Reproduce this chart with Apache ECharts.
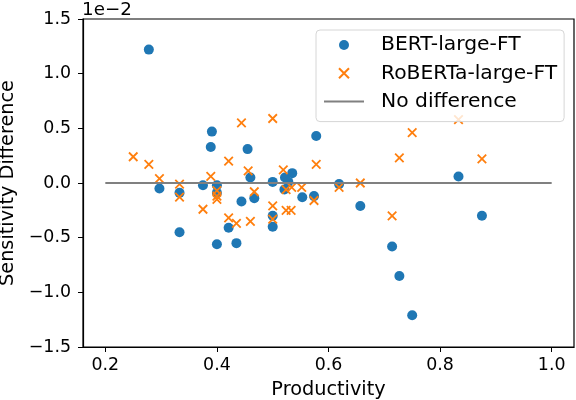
<!DOCTYPE html>
<html>
<head>
<meta charset="utf-8">
<script src="https://cdn.jsdelivr.net/npm/echarts@6/dist/echarts.min.js"></script>
<style>
  html, body { margin: 0; padding: 0; background: #fff; }
  #chart { width: 576px; height: 400px; }
</style>
</head>
<body>
<div id="chart"></div>
<script>
// sensitivity difference values are in units of 1e-2
var bertProductivity = [0.278, 0.297, 0.333, 0.333, 0.375, 0.389, 0.391, 0.4, 0.4, 0.4,
    0.421, 0.435, 0.444, 0.455, 0.46, 0.467, 0.5, 0.5, 0.5, 0.521,
    0.522, 0.528, 0.535, 0.553, 0.574, 0.578, 0.619, 0.657, 0.714, 0.727,
    0.75, 0.833, 0.875];
var bertDiff = [1.22, -0.05, -0.45, -0.09, -0.02, 0.33, 0.47, -0.02, -0.09, -0.56,
    -0.41, -0.55, -0.17, 0.31, 0.05, -0.14, 0.01, -0.30, -0.40, -0.06,
    0.05, 0.01, 0.09, -0.13, -0.12, 0.43, -0.01, -0.21, -0.58, -0.85,
    -1.21, 0.06, -0.30];

var robertaProductivity = [0.25, 0.278, 0.297, 0.333, 0.333, 0.375, 0.389, 0.4, 0.4, 0.4,
    0.421, 0.421, 0.435, 0.444, 0.456, 0.46, 0.467, 0.5, 0.5, 0.5,
    0.519, 0.524, 0.524, 0.533, 0.534, 0.552, 0.574, 0.578, 0.619, 0.657,
    0.714, 0.727, 0.75, 0.833, 0.875];
var robertaDiff = [0.24, 0.17, 0.04, -0.01, -0.13, -0.24, 0.06, -0.07, -0.12, -0.15,
    0.20, -0.32, -0.37, 0.55, 0.11, -0.35, -0.08, 0.59, -0.21, -0.33,
    0.12, -0.06, -0.25, -0.25, -0.04, -0.04, -0.16, 0.17, -0.04, 0.00,
    -0.30, 0.23, 0.46, 0.58, 0.22];

var noDiffX = [0.2, 1.0];
var noDiffY = [0, 0];

var xTicks = [0.2, 0.4, 0.6, 0.8, 1.0];
var seriesNames = ['BERT-large-FT', 'RoBERTa-large-FT', 'No difference'];

function pairs(xs, ys){
    var out = [];
    for (var i = 0; i < xs.length; i++) out.push([xs[i], ys[i]]);
    return out;
}

var font = 'DejaVu Sans';
var tickSize = 17.4;
var labelSize = 19.3;
var crossIcon = 'path://M0,0L10,10M10,0L0,10';

var option = {
    animation: false,
    backgroundColor: '#fff',
    textStyle: { fontFamily: font },
    title: {
        text: '1e\u22122',
        left: 82,
        top: 1,
        padding: 0,
        textStyle: { fontFamily: font, fontSize: 18.3, fontWeight: 'normal', color: '#000' }
    },
    grid: {
        left: 83, right: 2, top: 19, bottom: 53,
        outerBoundsMode: 'none',
        containLabel: false,
        show: true, borderColor: '#000', borderWidth: 1.2
    },
    legend: {
        orient: 'vertical',
        left: 316,
        top: 30,
        padding: [5, 7, 10, 7],
        itemWidth: 40,
        itemHeight: 10,
        itemGap: 8.3,
        backgroundColor: 'rgba(255,255,255,0.8)',
        borderColor: '#d6d6d6',
        borderWidth: 1,
        borderRadius: 4,
        textStyle: { fontFamily: font, fontSize: 20.3, color: '#000', padding: [0, 0, 0, 12], lineHeight: 20 },
        data: [
            { name: seriesNames[0], icon: 'circle' },
            { name: seriesNames[1], icon: crossIcon },
            { name: seriesNames[2], itemStyle: { opacity: 0 } }
        ]
    },
    xAxis: {
        type: 'value',
        min: 0.16,
        max: 1.04,
        name: 'Productivity',
        nameLocation: 'middle',
        nameGap: 33,
        nameTextStyle: { fontFamily: font, fontSize: labelSize, color: '#000' },
        splitLine: { show: false },
        axisLine: { show: true, onZero: false, lineStyle: { color: '#000', width: 1.2 } },
        axisTick: { show: true, length: 5, lineStyle: { color: '#000' }, customValues: xTicks },
        axisLabel: {
            fontFamily: font, fontSize: tickSize, color: '#000', margin: 10,
            customValues: xTicks,
            formatter: function(v){ return v.toFixed(1); }
        }
    },
    yAxis: {
        type: 'value',
        min: -1.5,
        max: 1.5,
        interval: 0.5,
        name: 'Sensitivity Difference',
        nameLocation: 'middle',
        nameGap: 64,
        nameTextStyle: { fontFamily: font, fontSize: labelSize, color: '#000' },
        splitLine: { show: false },
        axisLine: { show: true, onZero: false, lineStyle: { color: '#000', width: 1.2 } },
        axisTick: { show: true, length: 5, lineStyle: { color: '#000' } },
        axisLabel: {
            fontFamily: font, fontSize: tickSize, color: '#000', margin: 12,
            formatter: function(v){ return v.toFixed(1).replace('-', '\u2212'); }
        }
    },
    series: [
        {
            name: seriesNames[0],
            type: 'scatter',
            symbol: 'circle',
            symbolSize: 10,
            itemStyle: { color: '#1f77b4', opacity: 1 },
            data: pairs(bertProductivity, bertDiff),
            z: 2
        },
        {
            name: seriesNames[1],
            type: 'scatter',
            symbol: crossIcon,
            symbolSize: 8.5,
            itemStyle: { color: '#ff7f0e', borderColor: '#ff7f0e', borderWidth: 1.8, opacity: 1 },
            data: pairs(robertaProductivity, robertaDiff),
            z: 3
        },
        {
            name: seriesNames[2],
            type: 'line',
            symbol: 'none',
            lineStyle: { color: '#808080', width: 2 },
            itemStyle: { color: '#808080' },
            data: pairs(noDiffX, noDiffY),
            z: 4
        }
    ]
};

echarts.init(document.getElementById('chart'), null, { renderer: 'canvas' }).setOption(option);
</script>
</body>
</html>
